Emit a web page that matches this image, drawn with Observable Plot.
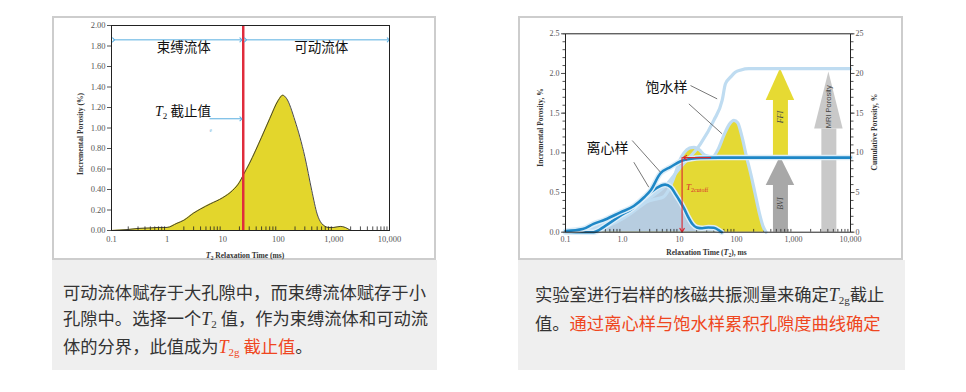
<!DOCTYPE html>
<html><head><meta charset="utf-8">
<script src="https://cdn.jsdelivr.net/npm/d3@7"></script>
<script src="https://cdn.jsdelivr.net/npm/@observablehq/plot@0.6"></script>
<style>
body{margin:0;background:#fff;width:966px;height:392px;position:relative;overflow:hidden;font-family:"Noto Sans CJK SC",sans-serif;}
.panel{position:absolute;top:16px;height:240px;border:2px solid #cdcdcd;background:#fff;}
#pl{left:52px;width:380px;}
#pr{left:518px;width:381px;}
.panel svg{position:absolute;left:0;top:0;overflow:visible;}
.cap{position:absolute;top:260px;height:110px;background:#efefef;color:#333;font-size:17.3px;line-height:26.5px;white-space:nowrap;box-sizing:border-box;}
#cl{left:52px;width:385px;padding:18.5px 0 0 11px;}
#cr{left:518px;width:387px;padding:19.5px 0 0 17px;line-height:27px;}
.t{font-family:"Liberation Serif",serif;font-style:italic;font-size:18px;}
.cap sub{font-family:"Liberation Serif",serif;font-size:11px;vertical-align:-3px;line-height:0;}
.red{color:#ef4620;}
</style></head>
<body>
<div class="panel" id="pl"></div>
<div class="panel" id="pr"></div>
<div class="cap" id="cl">可动流体赋存于大孔隙中，而束缚流体赋存于小<br>孔隙中。选择一个<span class="t">T</span><sub>2</sub> 值，作为束缚流体和可动流<br>体的分界，此值成为<span class="red"><span class="t">T</span><sub>2g</sub> 截止值</span>。</div>
<div class="cap" id="cr">实验室进行岩样的核磁共振测量来确定<span class="t">T</span><sub>2g</sub>截止<br>值。<span class="red">通过离心样与饱水样累积孔隙度曲线确定</span></div>
<script>
// ---------------- Left chart data ----------------
const leftT2 = [0.1,0.2,0.3,0.5,0.7,1,1.5,2,3,4,6,10,15,20,23.4,30,50,70,100,120,140,200,300,400,500,600,800,1000,1300,1600,2000];
const leftPorosity = [0,0.01,0.02,0.025,0.03,0.03,0.07,0.10,0.17,0.21,0.26,0.32,0.39,0.47,0.54,0.65,0.91,1.09,1.27,1.32,1.29,1.07,0.72,0.39,0.16,0.07,0.03,0.03,0.04,0.03,0];
const leftCutoff = 23.4;
const leftXTicks = [0.1,1,10,100,1000,10000];
const leftXLabels = ["0.1","1","10","100","1,000","10,000"];
const leftYTicks = [0,0.2,0.4,0.6,0.8,1.0,1.2,1.4,1.6,1.8,2.0];
const leftZoneLabels = ["束缚流体","可动流体"];
const leftZoneT2 = [2.0,590];
const leftZoneY = [1.78,1.78];
const leftBandY = 1.86;
const leftCutLabelY = 1.09;

// ---------------- Right chart data ----------------
const satT2 = [0.2,0.4,0.8,1.3,2,2.6,4,5.1,6.3,7.6,9,10,12,15,18,22,28,38,48,60,75,90,105,125,150,180,210,250,290,330];
const satInc = [0,0.04,0.13,0.22,0.32,0.38,0.42,0.44,0.52,0.65,0.8,0.9,1.0,1.06,1.07,1.04,0.97,0.95,1.05,1.22,1.36,1.41,1.38,1.2,0.95,0.72,0.5,0.25,0.08,0];
const satCumT2 = [0.1,0.2,0.41,0.8,1.38,3.1,6.1,10.4,23.2,40,56,64,80,95,120,165,10000];
const satCum = [0,0.3,0.84,1.9,2.95,4.4,6.1,8.2,11.1,14.1,16.6,18.7,19.6,20.15,20.45,20.6,20.6];
const cenT2 = [0.1,0.31,0.5,0.92,1.5,2.1,3.1,4,5.6,7,8.5,10,12,14,17,20,25,32,40,50,55];
const cenInc = [0,0,0.08,0.21,0.30,0.40,0.50,0.56,0.60,0.57,0.48,0.40,0.30,0.20,0.10,0.06,0.05,0.06,0.055,0.02,0];
const cenCumT2 = [0.1,0.2,0.31,0.5,0.92,1.58,2.4,3.1,4.6,6.9,11,16,23,50,10000];
const cenCum = [0.15,0.4,1.05,1.6,2.5,3.3,4.4,5.25,7.4,8.2,9.0,9.25,9.37,9.4,9.4];
const cutoffT2 = 11.1;
const cutoffCum = 9.4;
const rightXTicks = [0.1,1,10,100,1000,10000];
const rightXLabels = ["0.1","1.0","10","100","1,000","10,000"];
const rightYTicks = [0,0.5,1.0,1.5,2.0,2.5];
const arrowNames = ["BVI","FFI","MRI Porosity"];
const arrowT2 = [590,590,4170];
const arrowFrom = [0,9.5,0];
const arrowTo = [9.5,20.6,20.2];
const arrowLabelY = [0.36,1.45,1.58];

// ---------------- helpers ----------------
const serif = '"Liberation Serif","DejaVu Serif",serif';
const cjk = '"Noto Sans CJK SC",sans-serif';
function rich(svg, x, y, parts, {anchor="start", rotate=0, weight="normal", fill="#333"} = {}) {
  const t = d3.select(svg).append("text")
    .attr("transform", `translate(${x},${y}) rotate(${rotate})`)
    .attr("text-anchor", anchor).attr("fill", fill).attr("font-weight", weight);
  let shift = 0;
  for (const p of parts) {
    const s = t.append("tspan").text(p.t)
      .attr("font-family", p.f || serif)
      .attr("font-size", p.s)
      .attr("font-style", p.i ? "italic" : "normal");
    const target = p.sub || 0;
    if (target !== shift) { s.attr("dy", target - shift); shift = target; }
    if (p.fill) s.attr("fill", p.fill);
  }
  return t;
}
const minorLog = d3.range(-1, 4).flatMap(e => d3.range(2, 10).map(k => k * 10 ** e));

// ---------------- Left chart ----------------
const leftData = leftT2.map((t, i) => ({t2: t, v: leftPorosity[i]}));
const L = Plot.plot({
  width: 380, height: 240,
  marginLeft: 57, marginRight: 45, marginTop: 7, marginBottom: 28,
  style: {fontFamily: serif, fontSize: "8.5px", color: "#555", background: "transparent", overflow: "visible"},
  x: {type: "log", domain: [0.1, 10000]},
  y: {domain: [0, 2]},
  marks: [
    Plot.areaY(leftData, {x: "t2", y: "v", fill: "#e3d62c", curve: "monotone-x"}),
    Plot.lineY(leftData, {x: "t2", y: "v", stroke: "#333", strokeWidth: 0.9, curve: "monotone-x"}),
    Plot.ruleX(minorLog, {x: d => d, y1: 0, y2: 0.035, stroke: "#222", strokeWidth: 0.8}),
    Plot.ruleX([leftCutoff], {stroke: "#e02c3c", strokeWidth: 2.5}),
    Plot.link([0], {x1: 0.109, x2: leftCutoff / 1.1, y1: leftBandY, y2: leftBandY, stroke: "#58aee0", strokeWidth: 1, markerStart: "arrow", markerEnd: "arrow"}),
    Plot.link([0], {x1: leftCutoff * 1.1, x2: 9500, y1: leftBandY, y2: leftBandY, stroke: "#58aee0", strokeWidth: 1, markerStart: "arrow", markerEnd: "arrow"}),
    Plot.link([0], {x1: 5.8, x2: leftCutoff / 1.1, y1: leftCutLabelY, y2: leftCutLabelY, stroke: "#58aee0", strokeWidth: 1, markerEnd: "arrow"}),
    Plot.text(["e"], {x: 6.1, y: 0.976, fill: "#7ab8dc", fontSize: 5.5}),
    Plot.text(leftZoneLabels, {x: (d, i) => leftZoneT2[i], y: (d, i) => leftZoneY[i], text: d => d, fontFamily: cjk, fontSize: 13.5, fill: "#111"}),
    Plot.axisX({ticks: leftXTicks, tickFormat: d => leftXLabels[leftXTicks.indexOf(d)], tickSize: 0, tickPadding: 5, label: null}),
    Plot.axisY({ticks: leftYTicks, tickFormat: d3.format(".2f"), tickSize: 4, tickPadding: 2, label: null}),
    Plot.frame({stroke: "#222"})
  ]
});
document.getElementById("pl").appendChild(L);
{
  const x = L.scale("x"), y = L.scale("y");
  rich(L, x.apply(0.62), y.apply(1.14), [
    {t: "T", s: 14, i: true}, {t: "2", s: 9, sub: 3}, {t: " 截止值", s: 13.5, f: cjk}
  ], {fill: "#111"}).attr("dy", "0.35em");
  rich(L, 191, 239.5, [
    {t: "T", s: 8, i: true}, {t: "2", s: 5.5, sub: 2}, {t: " Relaxation Time (ms)", s: 7.5}
  ], {anchor: "middle", weight: "bold", fill: "#333"});
  rich(L, 28.6, 116, [{t: "Incremental Porosity (%)", s: 7.5}], {anchor: "middle", rotate: -90, weight: "bold", fill: "#333"});
}

// ---------------- Right chart ----------------
const satIncData = satT2.map((t, i) => ({t2: t, v: satInc[i]}));
const satCumData = satCumT2.map((t, i) => ({t2: t, v: satCum[i] / 10}));
const cenIncData = cenT2.map((t, i) => ({t2: t, v: cenInc[i]}));
const cenCumData = cenCumT2.map((t, i) => ({t2: t, v: cenCum[i] / 10}));
const arrowStyle = {
  "BVI": {fill: "#a8a8a8", head: 0.36},
  "FFI": {fill: "#e6da33", head: 0.40},
  "MRI Porosity": {fill: "#c9c9c9", head: 0.72}
};
const headF = 10 ** 0.25;
const arrowMarks = arrowNames.flatMap((n, i) => {
  const st = arrowStyle[n];
  const tip = arrowTo[i] / 10, base = tip - st.head, x0 = arrowT2[i];
  const tri = [{x: x0 / headF, y: base}, {x: x0, y: tip}, {x: x0 * headF, y: base}];
  return [
    Plot.ruleX([x0], {y1: arrowFrom[i] / 10, y2: base, stroke: st.fill, strokeWidth: 15}),
    Plot.areaY(tri, {x: "x", y1: base, y2: "y", fill: st.fill})
  ];
});
const lightBlue = "#bfdcf1";
const R = Plot.plot({
  width: 381, height: 240,
  marginLeft: 45, marginRight: 51, marginTop: 15.3, marginBottom: 26.3,
  style: {fontFamily: serif, fontSize: "8px", color: "#555", background: "transparent", overflow: "visible"},
  x: {type: "log", domain: [0.1, 10000]},
  y: {domain: [0, 2.5]},
  marks: [
    Plot.areaY(satIncData, {x: "t2", y: "v", fill: "#e4d934", curve: "monotone-x"}),
    Plot.areaY(cenIncData, {x: "t2", y: "v", fill: "#b7cde0", curve: "monotone-x"}),
    ...arrowMarks,
    Plot.ruleX(minorLog, {x: d => d, y1: 0, y2: 0.035, stroke: "#222", strokeWidth: 0.8}),
    Plot.lineY(satIncData, {x: "t2", y: "v", stroke: lightBlue, strokeWidth: 3.2, curve: "monotone-x"}),
    Plot.lineY(satCumData, {x: "t2", y: "v", stroke: lightBlue, strokeWidth: 3.2, curve: "monotone-x"}),
    Plot.lineY(cenIncData, {x: "t2", y: "v", stroke: "#dcedf8", strokeWidth: 5.5, curve: "monotone-x"}),
    Plot.lineY(cenIncData, {x: "t2", y: "v", stroke: "#1e87c6", strokeWidth: 2.6, curve: "monotone-x"}),
    Plot.lineY(cenCumData, {x: "t2", y: "v", stroke: "#dcedf8", strokeWidth: 5.5, curve: "monotone-x"}),
    Plot.lineY(cenCumData, {x: "t2", y: "v", stroke: "#1e87c6", strokeWidth: 2.6, curve: "monotone-x"}),
    Plot.arrow([0], {x1: 35, y1: cutoffCum / 10, x2: cutoffT2 * 1.03, y2: cutoffCum / 10, stroke: "#d9262e", strokeWidth: 1.1, headLength: 6}),
    Plot.arrow([0], {x1: cutoffT2, y1: cutoffCum / 10, x2: cutoffT2, y2: 0, stroke: "#d9262e", strokeWidth: 1.1, headLength: 6}),
    Plot.link([0, 1, 2, 3], {
      x1: [15.6, 14.6, 1.48, 1.58], y1: [1.848, 1.617, 1.155, 0.882],
      x2: [45.8, 56, 4.64, 2.89], y2: [1.68, 1.239, 0.756, 0.567],
      stroke: "#555", strokeWidth: 0.8
    }),
    Plot.text(["饱水样", "离心样"], {x: [5.9, 0.546], y: [1.82, 1.05], text: d => d, fontFamily: cjk, fontSize: 14, fill: "#111"}),
    Plot.text(arrowNames.slice(0, 2), {x: (d, i) => arrowT2[i], y: (d, i) => arrowLabelY[i], text: d => d, rotate: -90, fontStyle: "italic", fontSize: 8, fill: "#444"}),
    Plot.text(arrowNames.slice(2), {x: arrowT2[2], y: arrowLabelY[2], text: d => d, rotate: -90, fontFamily: '"Liberation Sans",sans-serif', fontSize: 7.5, fill: "#444"}),
    Plot.axisX({ticks: rightXTicks, tickFormat: d => rightXLabels[rightXTicks.indexOf(d)], tickSize: 0, tickPadding: 4, label: null}),
    Plot.axisY({ticks: rightYTicks, tickFormat: d3.format(".1f"), tickSize: 4, tickPadding: 2, label: null}),
    Plot.axisY({ticks: d3.range(0, 2.51, 0.1), tickFormat: () => "", tickSize: 2.5, label: null}),
    Plot.axisY({anchor: "right", ticks: rightYTicks, tickFormat: d => String(Math.round(d * 10)), tickSize: 3.5, tickPadding: 1.5, label: null}),
    Plot.axisY({anchor: "right", ticks: d3.range(0, 2.51, 0.1), tickFormat: () => "", tickSize: 2.5, label: null}),
    Plot.frame({stroke: "#222"})
  ]
});
document.getElementById("pr").appendChild(R);
{
  const x = R.scale("x"), y = R.scale("y");
  rich(R, x.apply(13.3), y.apply(0.56), [
    {t: "T", s: 9, i: true}, {t: "2cutoff", s: 6, sub: 2}
  ], {fill: "#d9262e"}).attr("dy", "0.3em");
  rich(R, 186.5, 236.5, [
    {t: "Relaxation Time (", s: 7.5}, {t: "T", s: 8, i: true}, {t: "2", s: 5.5, sub: 2}, {t: "), ms", s: 7.5}
  ], {anchor: "middle", weight: "bold", fill: "#333"});
  rich(R, 22.6, 109.5, [{t: "Incremental Porosity, %", s: 7.5}], {anchor: "middle", rotate: -90, weight: "bold", fill: "#333"});
  rich(R, 356.6, 114, [{t: "Cumulative Porosity, %", s: 7.5}], {anchor: "middle", rotate: -90, weight: "bold", fill: "#333"});
}
</script>
</body></html>
